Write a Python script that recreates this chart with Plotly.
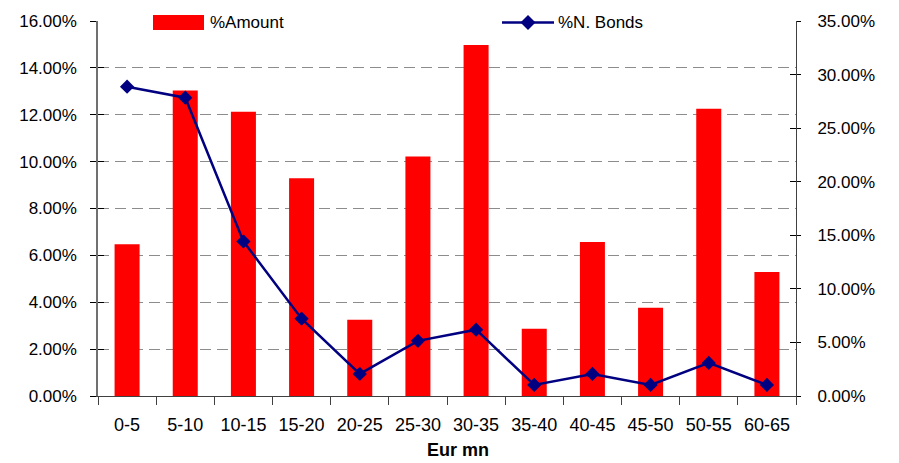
import plotly.graph_objects as go

# Bond issue size buckets (Eur mn)
buckets = ["0-5", "5-10", "10-15", "15-20", "20-25", "25-30",
           "30-35", "35-40", "40-45", "45-50", "50-55", "60-65"]

# Share of total issued amount per bucket (%)
pct_amount = [6.48, 13.03, 12.13, 9.29, 3.25, 10.22,
              14.98, 2.87, 6.57, 3.77, 12.26, 5.29]

# Share of number of bonds per bucket (%)
pct_bonds = [28.87, 27.84, 14.43, 7.22, 2.06, 5.15,
             6.19, 1.03, 2.06, 1.03, 3.09, 1.03]

left_ticks = [0, 2, 4, 6, 8, 10, 12, 14, 16]
right_ticks = [0, 5, 10, 15, 20, 25, 30, 35]
grid_vals = [2, 4, 6, 8, 10, 12, 14]

W, H = 899, 463
ML, MR, MT, MB = 98, 103, 19, 67
PW, PH = W - ML - MR, H - MT - MB

RED = "#FF0000"
NAVY = "#000080"
AXIS = "#404040"
FONT = "Liberation Sans, Arial, sans-serif"


def px_x(px):
    return (px - ML) / PW


def px_y(py):
    return (H - MB - py) / PH


def pct_labels(vals):
    return [f"{v:.2f}%" for v in vals]


fig = go.Figure()

fig.add_trace(go.Bar(
    x=buckets, y=pct_amount, name="%Amount",
    marker=dict(color=RED, line=dict(width=0)),
    width=0.43, yaxis="y", showlegend=False,
))

fig.add_trace(go.Scatter(
    x=buckets, y=pct_bonds, name="%N. Bonds",
    mode="lines+markers", yaxis="y2",
    line=dict(color=NAVY, width=2.5),
    marker=dict(symbol="diamond", size=11, color=NAVY),
    showlegend=False,
))

# empty traces so the helper axes (grid + inner tick halves) are drawn
fig.add_trace(go.Scatter(x=[], y=[], yaxis="y3", showlegend=False, hoverinfo="skip"))
fig.add_trace(go.Scatter(x=[], y=[], yaxis="y4", showlegend=False, hoverinfo="skip"))

tick_font = dict(family=FONT, size=17, color="black")

fig.update_layout(
    width=W, height=H,
    margin=dict(l=ML, r=MR, t=MT, b=MB, pad=0),
    paper_bgcolor="white", plot_bgcolor="white",
    font=dict(family=FONT, color="black"),
    xaxis=dict(
        type="category", showline=True, linecolor=AXIS, linewidth=1,
        ticks="outside", tickson="boundaries", ticklen=8, tickcolor=AXIS,
        tickfont=dict(family=FONT, size=18, color="black"),
        showgrid=False, zeroline=False, ticklabelstandoff=12,
        range=[-0.5, len(buckets) - 0.5],
    ),
    yaxis=dict(
        range=[0, 16], tickmode="array", tickvals=left_ticks,
        ticktext=pct_labels(left_ticks),
        showline=True, linecolor="#707070", linewidth=1.5,
        ticks="outside", ticklen=6, tickcolor="black",
        showgrid=False, zeroline=False, tickfont=tick_font,
        ticklabelstandoff=10,
    ),
    yaxis2=dict(
        range=[0, 35], tickmode="array", tickvals=right_ticks,
        ticktext=pct_labels(right_ticks),
        overlaying="y", side="right",
        showline=True, linecolor=AXIS, linewidth=1,
        ticks="outside", ticklen=4, tickcolor="black",
        showgrid=False, zeroline=False, tickfont=tick_font,
        ticklabelstandoff=13,
    ),
    yaxis3=dict(
        range=[0, 16], tickvals=grid_vals, overlaying="y", side="left",
        showticklabels=False, ticks="inside", ticklen=6, tickcolor="black",
        showgrid=True, gridcolor="#8c8c8c", gridwidth=1, griddash="11px,6px",
        zeroline=False, showline=False,
    ),
    yaxis4=dict(
        range=[0, 35], tickvals=right_ticks, overlaying="y", side="right",
        showticklabels=False, ticks="inside", ticklen=6, tickcolor="black",
        showgrid=False, zeroline=False, showline=False,
    ),
)

# key: bar swatch + label
key_y = 20.5
fig.add_shape(type="rect", xref="paper", yref="paper",
              x0=px_x(153), x1=px_x(204), y0=px_y(28), y1=px_y(13),
              fillcolor=RED, line=dict(width=0))
fig.add_annotation(text="%Amount", xref="paper", yref="paper",
                   x=px_x(208), y=px_y(key_y), xanchor="left", yanchor="middle",
                   showarrow=False, font=dict(family=FONT, size=17, color="black"))

# key: line with diamond + label
fig.add_shape(type="line", xref="paper", yref="paper",
              x0=px_x(502), x1=px_x(554), y0=px_y(key_y), y1=px_y(key_y),
              line=dict(color=NAVY, width=2.5))
dx, dy = 7.5 / PW, 7.5 / PH
cx, cy = px_x(528), px_y(key_y)
fig.add_shape(type="path", xref="paper", yref="paper",
              path=f"M {cx - dx} {cy} L {cx} {cy + dy} L {cx + dx} {cy} L {cx} {cy - dy} Z",
              fillcolor=NAVY, line=dict(color=NAVY, width=0))
fig.add_annotation(text="%N. Bonds", xref="paper", yref="paper",
                   x=px_x(556), y=px_y(key_y), xanchor="left", yanchor="middle",
                   showarrow=False, font=dict(family=FONT, size=17, color="black"))

# x-axis title
fig.add_annotation(text="<b>Eur mn</b>", xref="paper", yref="paper",
                   x=px_x(458), y=px_y(450), xanchor="center", yanchor="middle",
                   showarrow=False, font=dict(family=FONT, size=18, color="black"))

fig.write_html("out.html")
